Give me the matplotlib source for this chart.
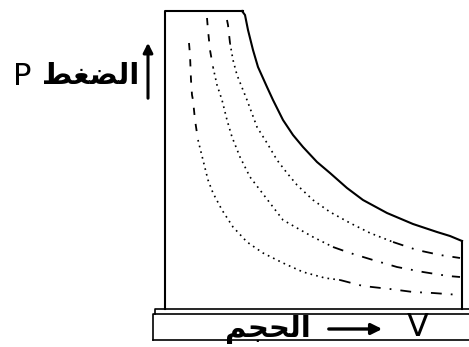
import matplotlib.pyplot as plt

# pixel coordinates (x to the right, y downwards)
frame_x = [243, 165, 165]
frame_y = [11, 11, 309]

solid_x = [242, 245, 248, 253, 258, 267, 273, 283, 293, 303, 317, 330, 347, 363,
           387, 413, 437, 450, 462]
solid_y = [11, 15, 30, 50, 67, 87, 100, 120, 135, 147, 162, 173, 188, 200,
           213, 224, 232, 236, 241]

c2_x = [227, 228, 230, 233, 237, 243, 247, 257, 267, 277, 287, 297, 313, 330,
        350, 370, 393, 417, 440, 460]
c2_y = [20, 25, 43, 60, 75, 90, 100, 127, 143, 160, 173, 185, 200, 212,
        223, 233, 242, 250, 255, 258]

c3_x = [207, 208, 210, 213, 217, 222, 227, 232, 240, 250, 260, 273, 283, 297,
        313, 333, 350, 373, 397, 423, 448, 460]
c3_y = [18, 30, 50, 67, 85, 100, 120, 137, 157, 177, 190, 207, 220, 228,
        237, 247, 253, 260, 267, 272, 276, 277]

c4_x = [189, 190, 191, 192, 193, 195, 198, 203, 208, 213, 222, 233, 247, 263,
        283, 303, 325, 340, 363, 390, 413, 433, 460]
c4_y = [43, 55, 80, 95, 100, 120, 140, 160, 180, 193, 210, 227, 242, 253,
        263, 272, 278, 280, 286, 289, 292, 293, 295]

right_x = [462, 462]
right_y = [241, 309]

# index ranges: dashed top, dotted middle, dashed tail
splits = [(2, 16), (3, 15), (6, 17)]

# Arabic labels written in visual order with presentation forms
# (matplotlib does no Arabic shaping itself)
label_p = '\uFEC2\uFED0\uFEC0\uFEDF\uFE8D'   # الضغط
label_v = '\uFEE2\uFEA0\uFEA4\uFEDF\uFE8D'   # الحجم

fig = plt.figure(figsize=(4.69, 3.47), dpi=100)
ax = fig.add_axes([0, 0, 1, 1])
ax.set_xlim(0, 469)
ax.set_ylim(347, 0)
ax.axis('off')

lw = 1.5
ax.plot(frame_x, frame_y, color='black', lw=lw)
ax.plot(solid_x, solid_y, color='black', lw=lw)
ax.plot(right_x, right_y, color='black', lw=lw)

dash = (0, (4, 5))
dot = (0, (1, 2.5))
curves = [(c2_x, c2_y), (c3_x, c3_y), (c4_x, c4_y)]
for (xs, ys), (a, b) in zip(curves, splits):
    ax.plot(xs[:a + 1], ys[:a + 1], color='black', lw=1.3, linestyle=dash)
    ax.plot(xs[a:b + 1], ys[a:b + 1], color='black', lw=1.2, linestyle=dot)
    ax.plot(xs[b:], ys[b:], color='black', lw=1.3, linestyle=(0, (6, 5, 1, 5)))

# base strips
ax.plot([155, 155, 469], [314, 309, 309], color='black', lw=1.2)
ax.plot([153, 153, 469], [340, 314, 314], color='black', lw=1.2)
ax.plot([153, 469], [340, 340], color='black', lw=1.2)

# pressure label with upward arrow
ax.text(13, 76, 'P', fontsize=22, ha='left', va='center')
ax.text(139, 76, label_p, fontsize=21, fontweight='bold', ha='right', va='center',
        family=['DejaVu Sans'])
ax.annotate('', xy=(148, 40), xytext=(148, 101),
            arrowprops=dict(arrowstyle='-|>', color='black', lw=2.2,
                            mutation_scale=14))

# volume label with right arrow
ax.text(311, 329, label_v, fontsize=21, fontweight='bold', ha='right', va='center',
        family=['DejaVu Sans'])
ax.annotate('', xy=(385, 329), xytext=(326, 329),
            arrowprops=dict(arrowstyle='-|>', color='black', lw=2.4,
                            mutation_scale=16))
ax.text(418, 327, 'V', fontsize=23, ha='center', va='center')

fig.savefig('out.png', dpi=100, facecolor='white')
